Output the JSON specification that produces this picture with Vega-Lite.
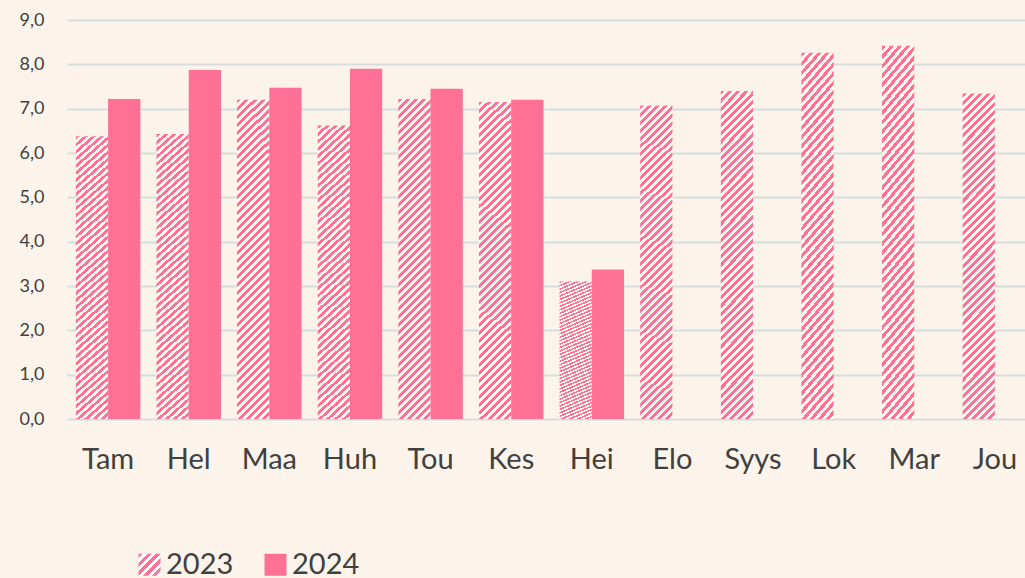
{
  "$schema": "https://vega.github.io/schema/vega-lite/v6.json",
  "width": 969,
  "height": 399,
  "autosize": {"type": "none"},
  "padding": {"left": 67, "top": 20, "right": 0, "bottom": 159},
  "background": "#FCF3EA",
  "config": {
    "view": {"stroke": null},
    "font": "Lato",
    "axis": {"labelFont": "Lato", "labelColor": "#404040", "domain": false, "ticks": false, "title": null}
  },
  "data": {
    "values": [
      {"month": "Tam", "year": "2023", "value": 6.38},
      {"month": "Tam", "year": "2024", "value": 7.22},
      {"month": "Hel", "year": "2023", "value": 6.43},
      {"month": "Hel", "year": "2024", "value": 7.87},
      {"month": "Maa", "year": "2023", "value": 7.2},
      {"month": "Maa", "year": "2024", "value": 7.47},
      {"month": "Huh", "year": "2023", "value": 6.62},
      {"month": "Huh", "year": "2024", "value": 7.9},
      {"month": "Tou", "year": "2023", "value": 7.22},
      {"month": "Tou", "year": "2024", "value": 7.45},
      {"month": "Kes", "year": "2023", "value": 7.15},
      {"month": "Kes", "year": "2024", "value": 7.2},
      {"month": "Hei", "year": "2023", "value": 3.1},
      {"month": "Hei", "year": "2024", "value": 3.37},
      {"month": "Elo", "year": "2023", "value": 7.07},
      {"month": "Syys", "year": "2023", "value": 7.4},
      {"month": "Lok", "year": "2023", "value": 8.26},
      {"month": "Mar", "year": "2023", "value": 8.42},
      {"month": "Jou", "year": "2023", "value": 7.34}
    ]
  },
  "encoding": {
    "x": {
      "field": "month",
      "type": "nominal",
      "sort": ["Tam", "Hel", "Maa", "Huh", "Tou", "Kes", "Hei", "Elo", "Syys", "Lok", "Mar", "Jou"],
      "scale": {"paddingInner": 0.2, "paddingOuter": 0.11},
      "axis": {"labelAngle": 0, "labelFontSize": 29, "labelPadding": 26}
    },
    "xOffset": {"field": "year", "type": "nominal", "scale": {"paddingInner": 0, "paddingOuter": 0}},
    "y": {
      "field": "value",
      "type": "quantitative",
      "scale": {"domain": [0, 9], "nice": false},
      "axis": {
        "values": [0, 1, 2, 3, 4, 5, 6, 7, 8, 9],
        "labelExpr": "replace(format(datum.value, '.1f'), '.', ',')",
        "labelFontSize": 18,
        "labelPadding": 23,
        "grid": true,
        "gridColor": "#D6DDDD",
        "gridWidth": 2
      }
    }
  },
  "layer": [
    {
      "mark": {"type": "bar"},
      "encoding": {
        "fill": {
          "condition": {
            "test": "datum.year === '2023'",
            "value": {"gradient": "linear", "x1": 0, "y1": 0, "x2": 0.10891, "y2": 1.0891, "stops": [
                {"offset": 0, "color": "#FF7096"}, {"offset": 0.01136, "color": "#FF7096"},
                {"offset": 0.01136, "color": "#FFF7F0"}, {"offset": 0.02273, "color": "#FFF7F0"},
                {"offset": 0.02273, "color": "#FF7096"}, {"offset": 0.03409, "color": "#FF7096"},
                {"offset": 0.03409, "color": "#FFF7F0"}, {"offset": 0.04545, "color": "#FFF7F0"},
                {"offset": 0.04545, "color": "#FF7096"}, {"offset": 0.05682, "color": "#FF7096"},
                {"offset": 0.05682, "color": "#FFF7F0"}, {"offset": 0.06818, "color": "#FFF7F0"},
                {"offset": 0.06818, "color": "#FF7096"}, {"offset": 0.07955, "color": "#FF7096"},
                {"offset": 0.07955, "color": "#FFF7F0"}, {"offset": 0.09091, "color": "#FFF7F0"},
                {"offset": 0.09091, "color": "#FF7096"}, {"offset": 0.10227, "color": "#FF7096"},
                {"offset": 0.10227, "color": "#FFF7F0"}, {"offset": 0.11364, "color": "#FFF7F0"},
                {"offset": 0.11364, "color": "#FF7096"}, {"offset": 0.125, "color": "#FF7096"},
                {"offset": 0.125, "color": "#FFF7F0"}, {"offset": 0.13636, "color": "#FFF7F0"},
                {"offset": 0.13636, "color": "#FF7096"}, {"offset": 0.14773, "color": "#FF7096"},
                {"offset": 0.14773, "color": "#FFF7F0"}, {"offset": 0.15909, "color": "#FFF7F0"},
                {"offset": 0.15909, "color": "#FF7096"}, {"offset": 0.17045, "color": "#FF7096"},
                {"offset": 0.17045, "color": "#FFF7F0"}, {"offset": 0.18182, "color": "#FFF7F0"},
                {"offset": 0.18182, "color": "#FF7096"}, {"offset": 0.19318, "color": "#FF7096"},
                {"offset": 0.19318, "color": "#FFF7F0"}, {"offset": 0.20455, "color": "#FFF7F0"},
                {"offset": 0.20455, "color": "#FF7096"}, {"offset": 0.21591, "color": "#FF7096"},
                {"offset": 0.21591, "color": "#FFF7F0"}, {"offset": 0.22727, "color": "#FFF7F0"},
                {"offset": 0.22727, "color": "#FF7096"}, {"offset": 0.23864, "color": "#FF7096"},
                {"offset": 0.23864, "color": "#FFF7F0"}, {"offset": 0.25, "color": "#FFF7F0"},
                {"offset": 0.25, "color": "#FF7096"}, {"offset": 0.26136, "color": "#FF7096"},
                {"offset": 0.26136, "color": "#FFF7F0"}, {"offset": 0.27273, "color": "#FFF7F0"},
                {"offset": 0.27273, "color": "#FF7096"}, {"offset": 0.28409, "color": "#FF7096"},
                {"offset": 0.28409, "color": "#FFF7F0"}, {"offset": 0.29545, "color": "#FFF7F0"},
                {"offset": 0.29545, "color": "#FF7096"}, {"offset": 0.30682, "color": "#FF7096"},
                {"offset": 0.30682, "color": "#FFF7F0"}, {"offset": 0.31818, "color": "#FFF7F0"},
                {"offset": 0.31818, "color": "#FF7096"}, {"offset": 0.32955, "color": "#FF7096"},
                {"offset": 0.32955, "color": "#FFF7F0"}, {"offset": 0.34091, "color": "#FFF7F0"},
                {"offset": 0.34091, "color": "#FF7096"}, {"offset": 0.35227, "color": "#FF7096"},
                {"offset": 0.35227, "color": "#FFF7F0"}, {"offset": 0.36364, "color": "#FFF7F0"},
                {"offset": 0.36364, "color": "#FF7096"}, {"offset": 0.375, "color": "#FF7096"},
                {"offset": 0.375, "color": "#FFF7F0"}, {"offset": 0.38636, "color": "#FFF7F0"},
                {"offset": 0.38636, "color": "#FF7096"}, {"offset": 0.39773, "color": "#FF7096"},
                {"offset": 0.39773, "color": "#FFF7F0"}, {"offset": 0.40909, "color": "#FFF7F0"},
                {"offset": 0.40909, "color": "#FF7096"}, {"offset": 0.42045, "color": "#FF7096"},
                {"offset": 0.42045, "color": "#FFF7F0"}, {"offset": 0.43182, "color": "#FFF7F0"},
                {"offset": 0.43182, "color": "#FF7096"}, {"offset": 0.44318, "color": "#FF7096"},
                {"offset": 0.44318, "color": "#FFF7F0"}, {"offset": 0.45455, "color": "#FFF7F0"},
                {"offset": 0.45455, "color": "#FF7096"}, {"offset": 0.46591, "color": "#FF7096"},
                {"offset": 0.46591, "color": "#FFF7F0"}, {"offset": 0.47727, "color": "#FFF7F0"},
                {"offset": 0.47727, "color": "#FF7096"}, {"offset": 0.48864, "color": "#FF7096"},
                {"offset": 0.48864, "color": "#FFF7F0"}, {"offset": 0.5, "color": "#FFF7F0"},
                {"offset": 0.5, "color": "#FF7096"}, {"offset": 0.51136, "color": "#FF7096"},
                {"offset": 0.51136, "color": "#FFF7F0"}, {"offset": 0.52273, "color": "#FFF7F0"},
                {"offset": 0.52273, "color": "#FF7096"}, {"offset": 0.53409, "color": "#FF7096"},
                {"offset": 0.53409, "color": "#FFF7F0"}, {"offset": 0.54545, "color": "#FFF7F0"},
                {"offset": 0.54545, "color": "#FF7096"}, {"offset": 0.55682, "color": "#FF7096"},
                {"offset": 0.55682, "color": "#FFF7F0"}, {"offset": 0.56818, "color": "#FFF7F0"},
                {"offset": 0.56818, "color": "#FF7096"}, {"offset": 0.57955, "color": "#FF7096"},
                {"offset": 0.57955, "color": "#FFF7F0"}, {"offset": 0.59091, "color": "#FFF7F0"},
                {"offset": 0.59091, "color": "#FF7096"}, {"offset": 0.60227, "color": "#FF7096"},
                {"offset": 0.60227, "color": "#FFF7F0"}, {"offset": 0.61364, "color": "#FFF7F0"},
                {"offset": 0.61364, "color": "#FF7096"}, {"offset": 0.625, "color": "#FF7096"},
                {"offset": 0.625, "color": "#FFF7F0"}, {"offset": 0.63636, "color": "#FFF7F0"},
                {"offset": 0.63636, "color": "#FF7096"}, {"offset": 0.64773, "color": "#FF7096"},
                {"offset": 0.64773, "color": "#FFF7F0"}, {"offset": 0.65909, "color": "#FFF7F0"},
                {"offset": 0.65909, "color": "#FF7096"}, {"offset": 0.67045, "color": "#FF7096"},
                {"offset": 0.67045, "color": "#FFF7F0"}, {"offset": 0.68182, "color": "#FFF7F0"},
                {"offset": 0.68182, "color": "#FF7096"}, {"offset": 0.69318, "color": "#FF7096"},
                {"offset": 0.69318, "color": "#FFF7F0"}, {"offset": 0.70455, "color": "#FFF7F0"},
                {"offset": 0.70455, "color": "#FF7096"}, {"offset": 0.71591, "color": "#FF7096"},
                {"offset": 0.71591, "color": "#FFF7F0"}, {"offset": 0.72727, "color": "#FFF7F0"},
                {"offset": 0.72727, "color": "#FF7096"}, {"offset": 0.73864, "color": "#FF7096"},
                {"offset": 0.73864, "color": "#FFF7F0"}, {"offset": 0.75, "color": "#FFF7F0"},
                {"offset": 0.75, "color": "#FF7096"}, {"offset": 0.76136, "color": "#FF7096"},
                {"offset": 0.76136, "color": "#FFF7F0"}, {"offset": 0.77273, "color": "#FFF7F0"},
                {"offset": 0.77273, "color": "#FF7096"}, {"offset": 0.78409, "color": "#FF7096"},
                {"offset": 0.78409, "color": "#FFF7F0"}, {"offset": 0.79545, "color": "#FFF7F0"},
                {"offset": 0.79545, "color": "#FF7096"}, {"offset": 0.80682, "color": "#FF7096"},
                {"offset": 0.80682, "color": "#FFF7F0"}, {"offset": 0.81818, "color": "#FFF7F0"},
                {"offset": 0.81818, "color": "#FF7096"}, {"offset": 0.82955, "color": "#FF7096"},
                {"offset": 0.82955, "color": "#FFF7F0"}, {"offset": 0.84091, "color": "#FFF7F0"},
                {"offset": 0.84091, "color": "#FF7096"}, {"offset": 0.85227, "color": "#FF7096"},
                {"offset": 0.85227, "color": "#FFF7F0"}, {"offset": 0.86364, "color": "#FFF7F0"},
                {"offset": 0.86364, "color": "#FF7096"}, {"offset": 0.875, "color": "#FF7096"},
                {"offset": 0.875, "color": "#FFF7F0"}, {"offset": 0.88636, "color": "#FFF7F0"},
                {"offset": 0.88636, "color": "#FF7096"}, {"offset": 0.89773, "color": "#FF7096"},
                {"offset": 0.89773, "color": "#FFF7F0"}, {"offset": 0.90909, "color": "#FFF7F0"},
                {"offset": 0.90909, "color": "#FF7096"}, {"offset": 0.92045, "color": "#FF7096"},
                {"offset": 0.92045, "color": "#FFF7F0"}, {"offset": 0.93182, "color": "#FFF7F0"},
                {"offset": 0.93182, "color": "#FF7096"}, {"offset": 0.94318, "color": "#FF7096"},
                {"offset": 0.94318, "color": "#FFF7F0"}, {"offset": 0.95455, "color": "#FFF7F0"},
                {"offset": 0.95455, "color": "#FF7096"}, {"offset": 0.96591, "color": "#FF7096"},
                {"offset": 0.96591, "color": "#FFF7F0"}, {"offset": 0.97727, "color": "#FFF7F0"},
                {"offset": 0.97727, "color": "#FF7096"}, {"offset": 0.98864, "color": "#FF7096"},
                {"offset": 0.98864, "color": "#FFF7F0"}, {"offset": 1, "color": "#FFF7F0"}
            ]}
          },
          "value": "#FF7096"
        }
      }
    },
    {
      "mark": {"type": "bar", "opacity": 0},
      "encoding": {
        "color": {
          "field": "year",
          "type": "nominal",
          "scale": {
            "domain": ["2023", "2024"],
            "range": [
              {"expr": "{gradient: 'linear', x1: 0, y1: 0, x2: 1, y2: 1, stops: [{offset: 0, color: '#FF7096'}, {offset: 0.1, color: '#FF7096'}, {offset: 0.1, color: '#FFFFFF'}, {offset: 0.2, color: '#FFFFFF'}, {offset: 0.2, color: '#FF7096'}, {offset: 0.3, color: '#FF7096'}, {offset: 0.3, color: '#FFFFFF'}, {offset: 0.4, color: '#FFFFFF'}, {offset: 0.4, color: '#FF7096'}, {offset: 0.5, color: '#FF7096'}, {offset: 0.5, color: '#FFFFFF'}, {offset: 0.6, color: '#FFFFFF'}, {offset: 0.6, color: '#FF7096'}, {offset: 0.7, color: '#FF7096'}, {offset: 0.7, color: '#FFFFFF'}, {offset: 0.8, color: '#FFFFFF'}, {offset: 0.8, color: '#FF7096'}, {offset: 0.9, color: '#FF7096'}, {offset: 0.9, color: '#FFFFFF'}, {offset: 1, color: '#FFFFFF'}]}"},
              "#FF7096"
            ]
          },
          "legend": {
            "title": null,
            "orient": "none",
            "direction": "horizontal",
            "legendX": 68,
            "legendY": 530,
            "symbolType": "square",
            "symbolSize": 484,
            "symbolStrokeWidth": 0,
            "symbolOpacity": 1,
            "labelFontSize": 29,
            "labelColor": "#404040",
            "labelFont": "Lato",
            "columnPadding": 27,
            "labelOffset": 2
          }
        }
      }
    }
  ]
}
